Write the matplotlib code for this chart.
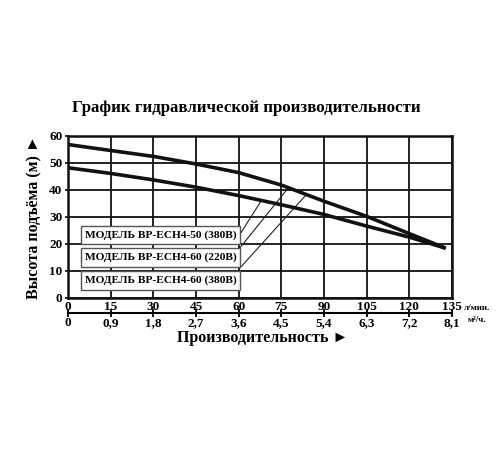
import matplotlib
matplotlib.use("Agg")
import matplotlib.pyplot as plt
from matplotlib.patches import Rectangle
import numpy as np

# Curve data: flow (l/min) vs head (m).
flow = [0, 15, 30, 45, 60, 75, 90, 105, 120, 132.8]
head_upper = [56.8, 54.6, 52.4, 49.6, 46.4, 41.8, 35.8, 30.2, 23.8, 18.4]
head_lower = [48.2, 46.1, 43.7, 41.0, 37.9, 34.5, 30.9, 26.6, 22.5, 18.4]

flow_ticks = [0, 15, 30, 45, 60, 75, 90, 105, 120, 135]
m3h_labels = ["0", "0,9", "1,8", "2,7", "3,6", "4,5", "5,4", "6,3", "7,2", "8,1"]
head_ticks = [0, 10, 20, 30, 40, 50, 60]

models = ["МОДЕЛЬ BP-ECH4-50 (380В)", "МОДЕЛЬ BP-ECH4-60 (220В)", "МОДЕЛЬ BP-ECH4-60 (380В)"]
# label boxes: bottom edge (head, m), leader line start and end (flow) on which curve
box_bottom = [19.8, 11.6, 3.1]
leader_start_y = [23.5, 18.5, 11.0]
leader_end_x = [68, 77.5, 83.8]
leader_curve = ["lower", "upper", "upper"]

plt.rcParams["font.family"] = ["Liberation Serif", "DejaVu Serif"]
plt.rcParams["font.weight"] = "bold"

fig = plt.figure(figsize=(5, 4.5), dpi=100)
ax = fig.add_axes([0.136, 0.338, 0.768, 0.36])

ax.plot(flow, head_upper, color="#111111", lw=2.6, solid_capstyle="butt", zorder=3)
ax.plot(flow, head_lower, color="#111111", lw=2.6, solid_capstyle="butt", zorder=3)

ax.set_xlim(0, 135)
ax.set_ylim(0, 60)
ax.set_xticks(flow_ticks)
ax.set_yticks(head_ticks)
ax.grid(True, color="#111111", lw=1.3)
for s in ax.spines.values():
    s.set_linewidth(1.8)
    s.set_color("#111111")
ax.tick_params(axis="x", length=0, pad=2, labelsize=9.5)
ax.tick_params(axis="y", length=2, width=1.2, pad=2, labelsize=9.5)
for lbl in ax.get_xticklabels() + ax.get_yticklabels():
    lbl.set_fontweight("bold")

# second scale in m3/h
sec = ax.secondary_xaxis(-0.095, functions=(lambda x: x, lambda x: x))
sec.set_xticks(flow_ticks)
sec.set_xticklabels(m3h_labels, fontweight="bold", fontsize=9.5)
sec.tick_params(direction="inout", length=6, width=1.3, pad=0)
sec.spines["bottom"].set_linewidth(1.5)

ax.text(1.03, -0.06, "л/мин.", transform=ax.transAxes, fontsize=6.5,
        ha="left", va="center")
ax.text(1.04, -0.135, "м³/ч.", transform=ax.transAxes, fontsize=6.5,
        ha="left", va="center")

# model label boxes with leader lines
for name, bb, sy, ex, cv in zip(models, box_bottom, leader_start_y, leader_end_x, leader_curve):
    ey = np.interp(ex, flow, head_upper if cv == "upper" else head_lower)
    ax.plot([60.4, ex], [sy, ey], color="#222222", lw=0.8, zorder=2)
    ax.add_patch(Rectangle((4.6, bb), 55.9, 7.0, fc="white", ec="#555555",
                           lw=1.0, zorder=4))
    ax.text(32.5, bb + 3.5, name, ha="center", va="center", fontsize=8.2, zorder=5)

ax.set_ylabel("Высота подъёма (м) ►", fontsize=11.5, fontweight="bold", labelpad=5)
ax.yaxis.label.set_family(["Liberation Serif", "DejaVu Sans"])
fig.text(0.525, 0.249, "Производительность ►", ha="center", va="center",
         fontsize=11.5, fontweight="bold", family=["Liberation Serif", "DejaVu Sans"])
fig.text(0.492, 0.76, "График гидравлической производительности", ha="center",
         va="center", fontsize=12.2, fontweight="bold")

plt.savefig("out.png", dpi=100, facecolor="white")
